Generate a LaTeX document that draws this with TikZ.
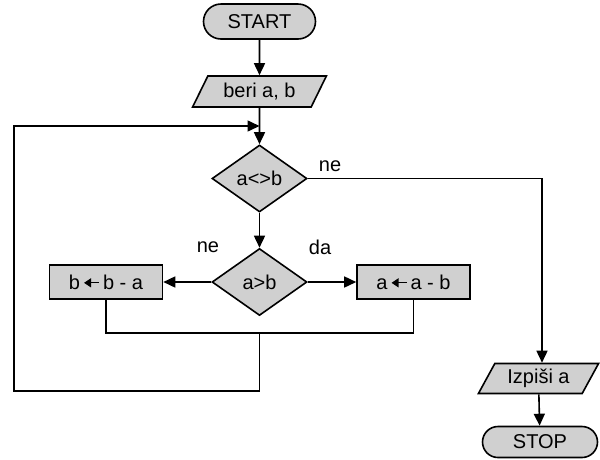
\documentclass[tikz,border=0pt]{standalone}
\usepackage{fontspec}
\setmainfont{Liberation Sans}
\usetikzlibrary{shapes.geometric,shapes.misc,arrows.meta}
\definecolor{boxfill}{RGB}{208,208,208}
\newcommand{\assignarrow}{\,\tikz[baseline=-0.6ex]\draw[line width=1.3pt,{Triangle[length=7pt,width=9pt]}-] (0pt,0pt) -- (15pt,0pt);\,}
\begin{document}
\begin{tikzpicture}[x=1pt,y=-1pt,line width=1.6pt,
  every node/.style={font=\fontsize{20}{23}\selectfont},
  shp/.style={draw,fill=boxfill,inner sep=0pt,line width=1.6pt},
  term/.style={shp,rounded rectangle,minimum width=112pt,minimum height=35pt},
  io/.style={shp,trapezium,trapezium left angle=58,trapezium right angle=122,trapezium stretches=true,minimum height=31pt},
  dec/.style={shp,diamond,minimum width=95pt,minimum height=67pt},
  proc/.style={shp,rectangle,minimum width=113pt,minimum height=34pt},
  arr/.style={-{Triangle[length=12pt,width=11pt]}},
  lbl/.style={inner sep=0pt}]
\useasboundingbox (0,0) rectangle (600,459);
\node[term] (start) at (259.5,21.5) {START};
\node[io,minimum width=135pt] (in) at (259.5,91.5) {beri a, b};
\node[dec] (d1) at (259.5,178.5) {a<>b};
\node[dec] (d2) at (259.5,282) {a>b};
\node[proc] (bl) at (106,282) {b\assignarrow b - a};
\node[proc] (br) at (413.5,282) {a\assignarrow a - b};
\node[io,minimum width=121pt,minimum height=30pt] (out) at (538.5,378.5) {Izpiši a};
\node[term,minimum width=115pt,minimum height=31pt] (stop) at (540,442) {STOP};
\node[lbl] (l1) at (330,166) {ne};
\node[lbl] (l2) at (208,247) {ne};
\node[lbl] (l3) at (320,247) {da};
\coordinate (join) at (259.5,126);
\coordinate (merge) at (259.5,333);
\coordinate (lb) at (14,391);
\coordinate (lt) at (14,126);
\coordinate (rt) at (542,178.5);
\draw[arr] (start) -- (in);
\draw[arr] (in) -- (d1);
\draw[arr] (d1) -- (d2);
\draw[arr] (d2) -- (br);
\draw[arr] (d2) -- (bl);
\draw (bl.south) -- (bl.south |- merge) -- (br.south |- merge) -- (br.south);
\draw[arr] (merge) -- (merge |- lb) -- (lb) -- (lt) -- (join);
\draw[arr] (d1.east) -- (rt) -- (rt |- out.north);
\draw[arr] (out) -- (stop);
\end{tikzpicture}
\end{document}
